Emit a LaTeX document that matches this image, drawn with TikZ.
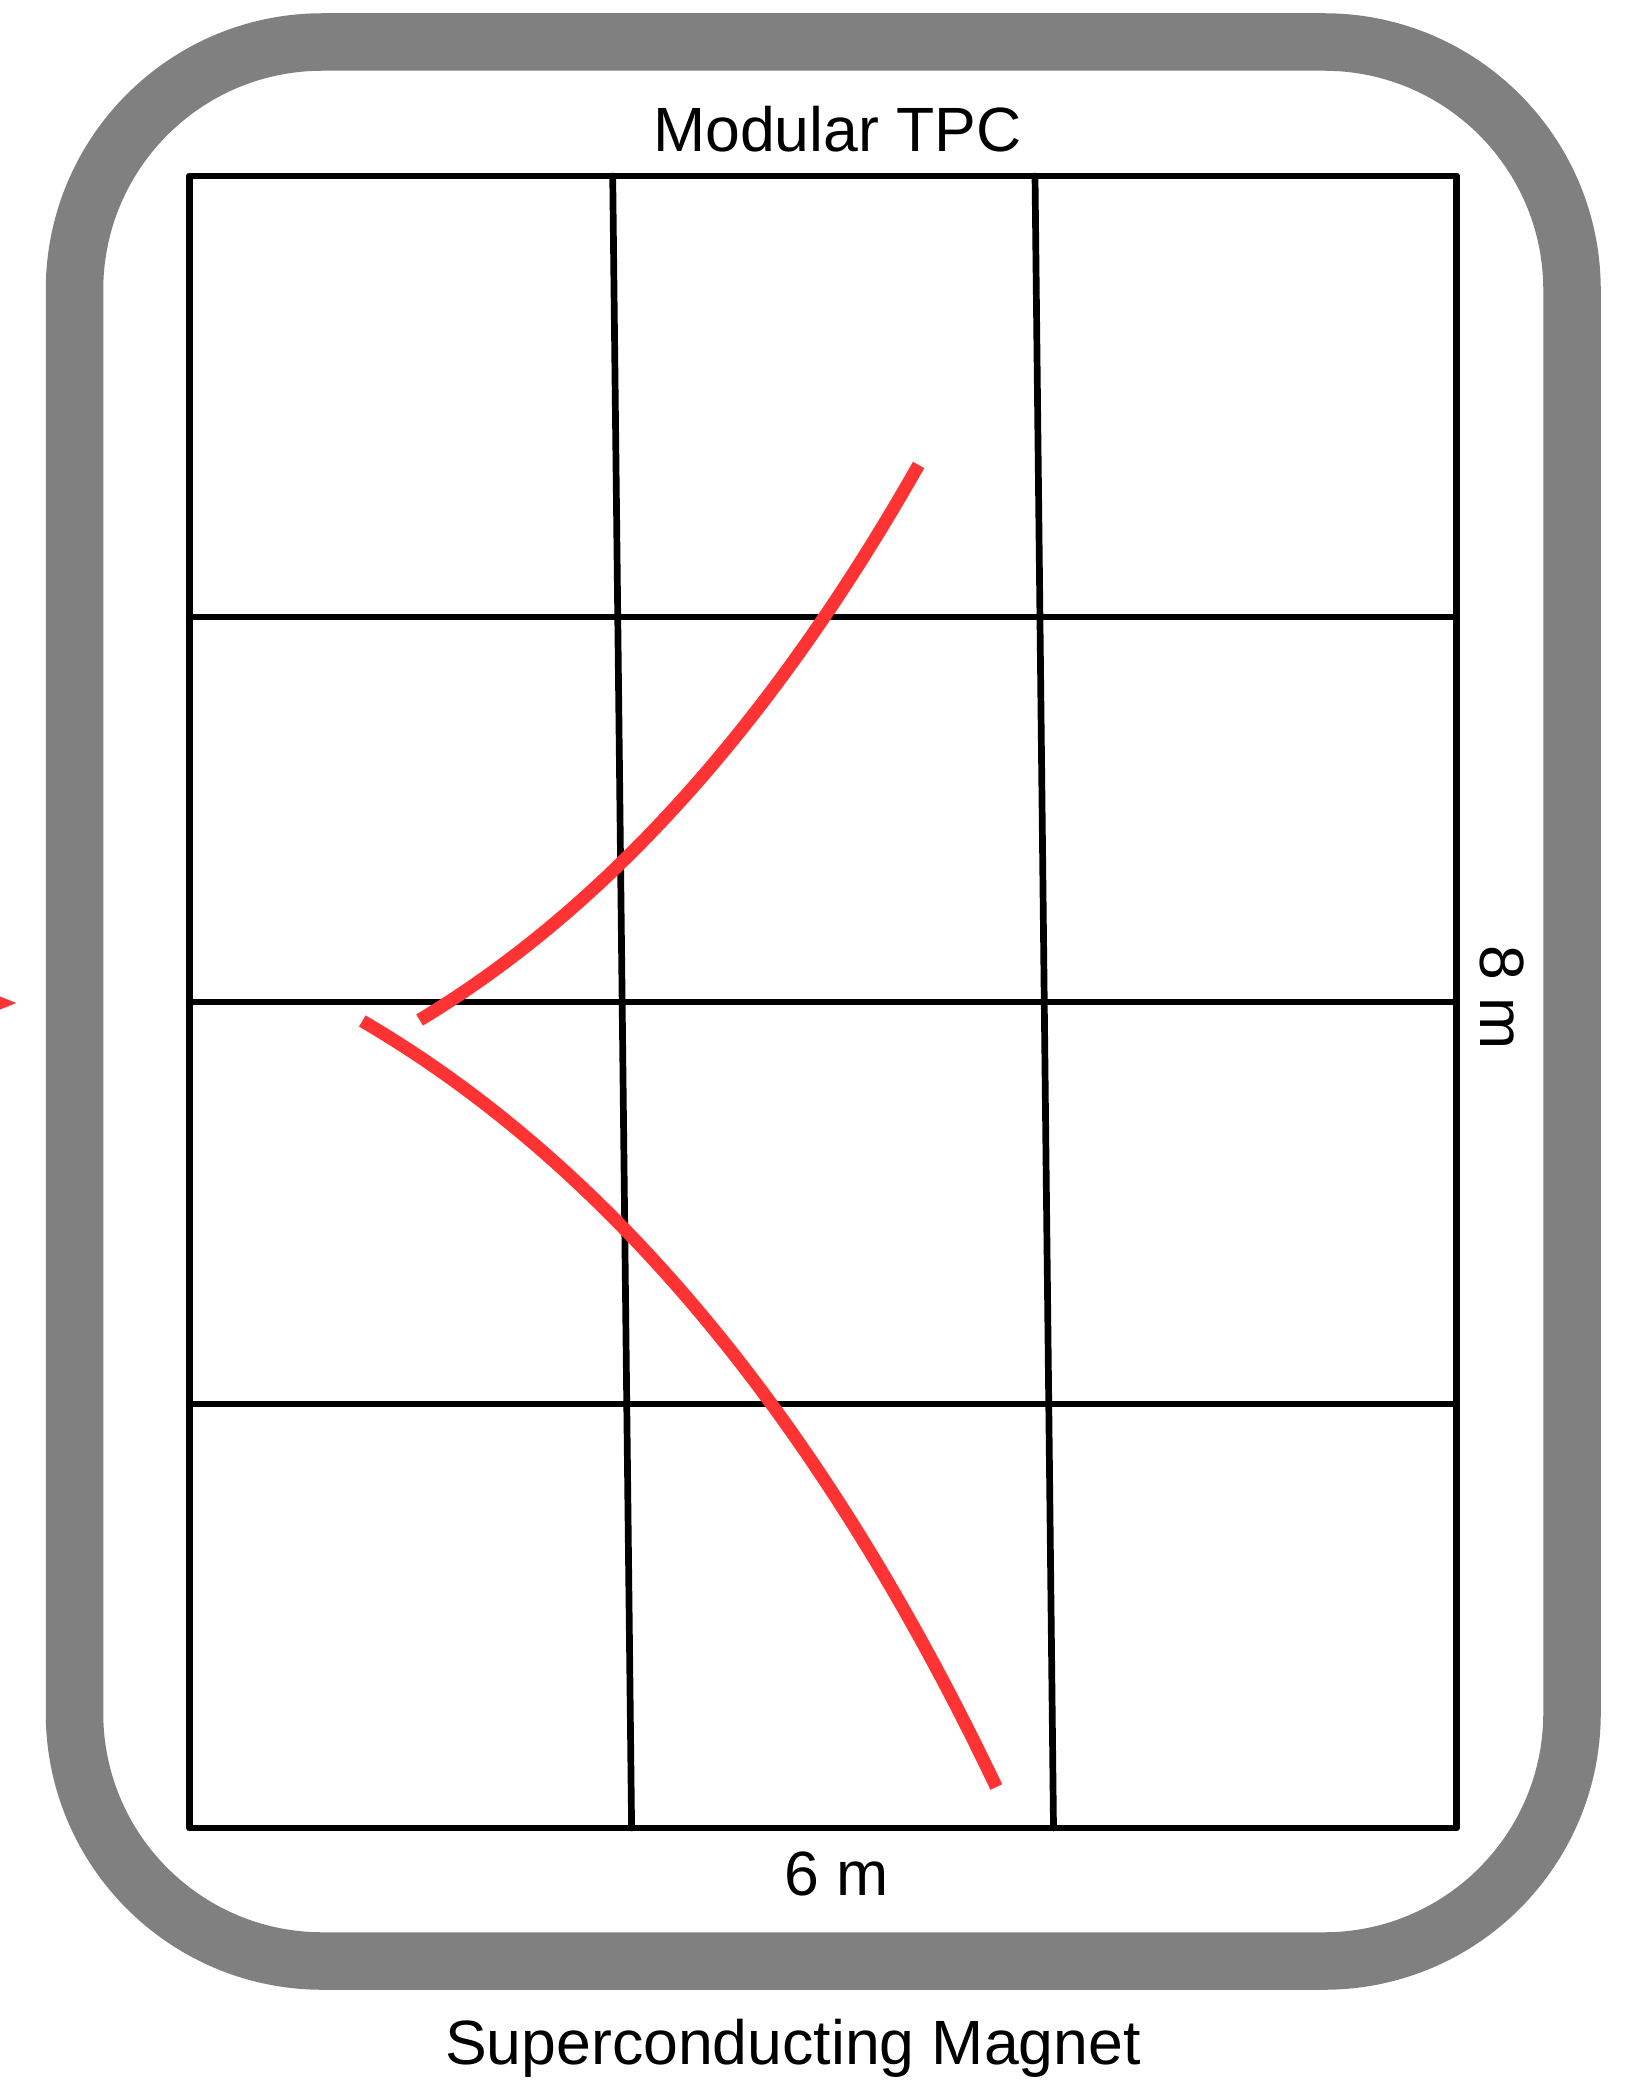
\documentclass[tikz,border=0pt]{standalone}
\usepackage{fontspec}
\setmainfont{Liberation Sans}
\usepackage{tikz}
\usetikzlibrary{arrows.meta}
\definecolor{magnetgray}{HTML}{808080}
\definecolor{trackred}{HTML}{FF3333}

\begin{document}
\begin{tikzpicture}[
    x=0.1mm, y=-0.1mm,
    magnet/.style={draw=magnetgray, line width=5.75mm, rounded corners=24.8mm},
    module/.style={draw=black, line width=0.67mm, line cap=round, line join=round},
    track/.style={draw=trackred, line width=1.3mm},
    beam/.style={-{Triangle[length=3mm, width=2mm]}, draw=trackred, fill=trackred, line width=1mm},
    dimtext/.style={font=\fontsize{17.8}{21}\selectfont, inner sep=0pt, anchor=base}
]
\useasboundingbox (0,0) rectangle (1624,2080);

% Magnet coil
\draw[magnet] (74.5,42) rectangle (1572,1961);

% TPC modules
\draw[module] (189.3,176) rectangle (1456.7,1828);
\foreach \y in {617,1002,1404} {
    \draw[module] (189.3,\y) -- (1456.7,\y);
}
\draw[module] (612.7,176) -- (631.6,1828);
\draw[module] (1035,176) -- (1053.5,1828);

% Tracks
\draw[track] (918.6,465) .. controls (772.2,723) and (605.9,908) .. (419.6,1020);
\draw[track] (362.3,1021) .. controls (611,1166.4) and (822.3,1421.8) .. (996.3,1787);

% Beam
\coordinate (beamin) at (-60,1003);
\coordinate (vertex) at (18,1003);
\draw[beam] (beamin) -- (vertex);

% Labels
\node[dimtext] (tpc) at (837.5,152) {Modular TPC};
\node[dimtext] (width) at (836.5,1895) {6 m};
\node[dimtext, rotate=-90] (height) at (1480,997.5) {8 m};
\node[dimtext] (magnet) at (793,2064) {Superconducting Magnet};

\end{tikzpicture}
\end{document}
